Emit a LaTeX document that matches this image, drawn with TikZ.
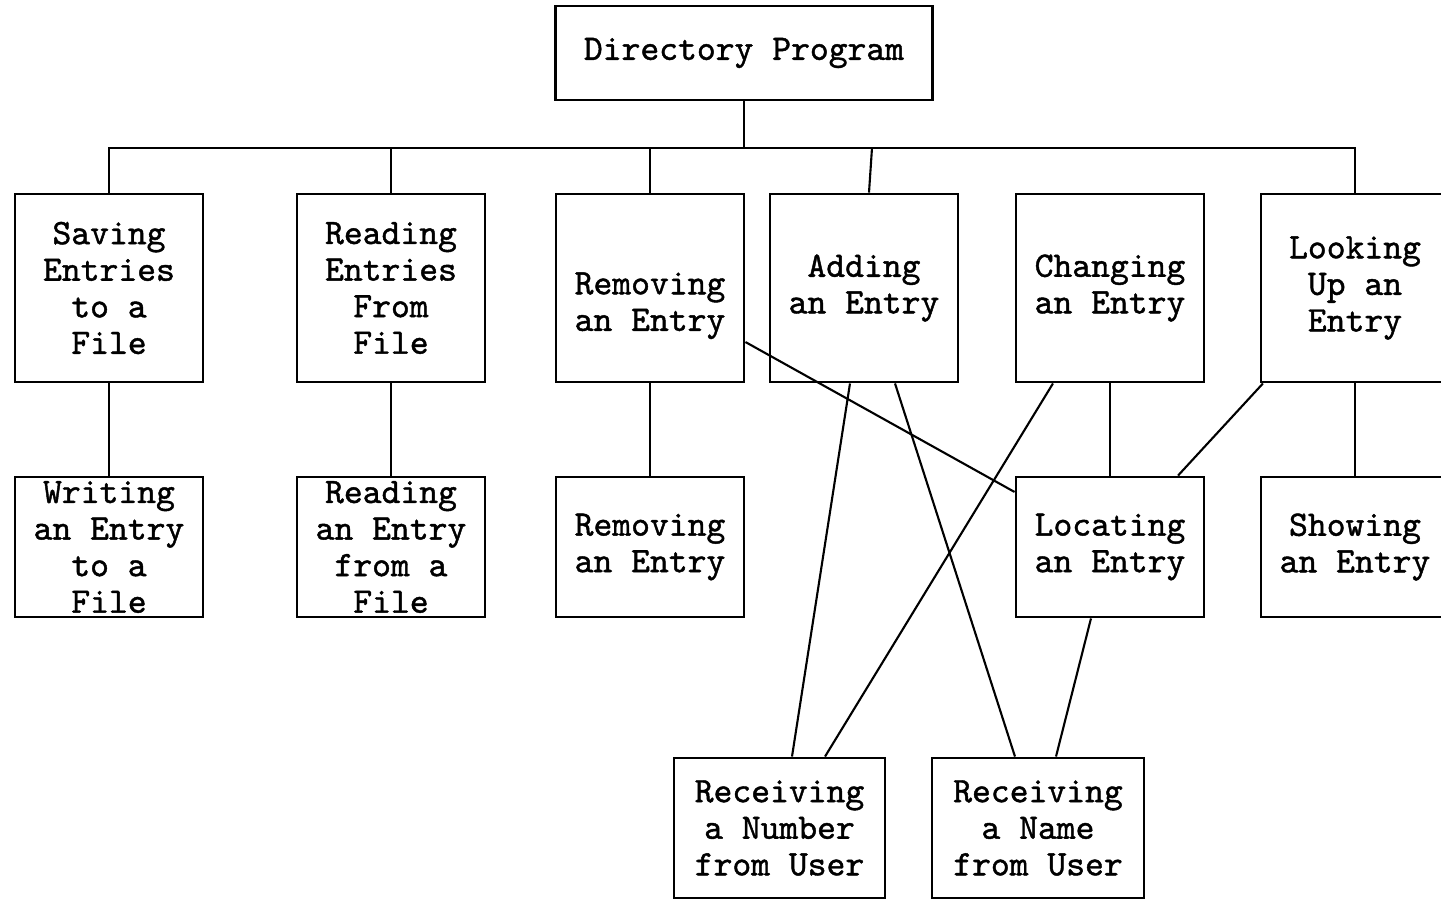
\documentclass[tikz,border=0pt]{standalone}
\usepackage{fontspec}
\newfontfamily\boxfont[FakeBold=1.2]{Latin Modern Mono}
\usetikzlibrary{positioning}
\tikzset{
  module/.style={draw,line width=0.8pt,align=center,inner sep=0pt,
                 minimum width=1.88cm,font=\boxfont\fontsize{10.2}{10.4}\selectfont},
  tall/.style={module,minimum height=1.88cm},
  short/.style={module,minimum height=1.40cm},
  link/.style={line width=0.6pt},
}

\begin{document}
\begin{tikzpicture}[x=0.01cm,y=-0.01cm]
    \fill[white] (0,0) rectangle (1441,900);
    \useasboundingbox (0,0) rectangle (1441,900);
    % main module
    \node[module,minimum width=3.76cm,minimum height=0.94cm] (main) at (744,53) {Directory Program};
    % first level
    \node[tall] (save)   at (109,288)  {Saving\\Entries\\to a\\File};
    \node[tall] (readE)  at (391,288)  {Reading\\Entries\\From\\File};
    \node[tall] (remove) at (650,288)  {\rule{0pt}{16.3pt}Removing\\an Entry};
    \node[tall] (add)    at (864,288)  {Adding\\an Entry};
    \node[tall] (change) at (1110,288) {Changing\\an Entry};
    \node[tall] (look)   at (1355,288) {Looking\\Up an\\Entry};
    % second level
    \node[short] (write)     at (109,547)  {Writing\\an Entry\\to a\\File};
    \node[short] (readOne)   at (391,547)  {Reading\\an Entry\\from a\\File};
    \node[short] (removeOne) at (650,547)  {Removing\\an Entry};
    \node[short] (locate)    at (1110,547) {Locating\\an Entry};
    \node[short] (show)      at (1355,547) {Showing\\an Entry};
    % user input
    \node[short,minimum width=2.11cm] (recnum)  at (779.5,828) {Receiving\\a Number\\from User};
    \node[short,minimum width=2.12cm] (recname) at (1038,828)  {Receiving\\a Name\\from User};
    % bus from main
    \coordinate (bus) at (744,148);
    \draw[link] (main.south) -- (bus);
    \draw[link] (save.north) |- (bus) -| (look.north);
    \foreach \n in {readE,remove} \draw[link] (\n.north) -- (\n.north |- bus);
    \draw[link] ([xshift=0.05cm]add.north) -- ([xshift=0.08cm]add.north |- bus);
    % straight calls
    \draw[link] (save.south) -- (write.north);
    \draw[link] (readE.south) -- (readOne.north);
    \draw[link] (remove.south) -- (removeOne.north);
    \draw[link] (change.south) -- (locate.north);
    \draw[link] (look.south) -- (show.north);
    % crossing calls
    \draw[link] ([yshift=-0.54cm]remove.east) -- ([yshift=0.55cm]locate.west);
    \draw[link] ([xshift=-0.14cm]add.south) -- ([xshift=0.125cm]recnum.north);
    \draw[link] ([xshift=0.31cm]add.south) -- ([xshift=-0.23cm]recname.north);
    \draw[link] ([xshift=-0.57cm]change.south) -- ([xshift=0.455cm]recnum.north);
    \draw[link] ([xshift=-0.92cm]look.south) -- ([xshift=0.68cm]locate.north);
    \draw[link] ([xshift=-0.19cm]locate.south) -- ([xshift=0.18cm]recname.north);
\end{tikzpicture}
\end{document}
